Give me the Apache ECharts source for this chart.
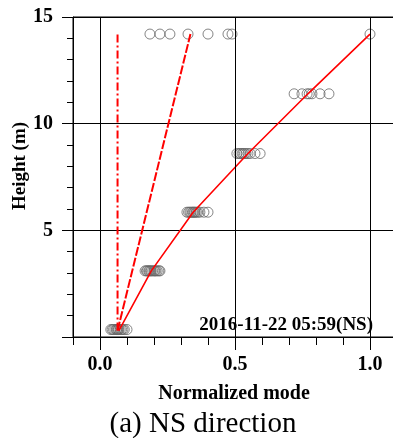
<!DOCTYPE html>
<html>
<head>
<meta charset="utf-8">
<script src="https://cdn.jsdelivr.net/npm/echarts@6/dist/echarts.min.js"></script>
<style>html,body{margin:0;padding:0;background:#fff;overflow:hidden;width:393px;height:438px}#c{width:400px;height:438px}</style>
</head>
<body>
<div id="c"></div>
<script>
// Heights of measurement levels (m)
var heights = [0.35, 3.1, 5.85, 8.6, 11.4, 14.2];
// Normalized mode amplitudes observed at each level
var modeH0 = [0.04, 0.045, 0.05, 0.055, 0.06, 0.062, 0.065, 0.068, 0.07, 0.075, 0.08, 0.085, 0.09, 0.1];
var modeH1 = [0.167, 0.172, 0.175, 0.18, 0.183, 0.187, 0.19, 0.195, 0.2, 0.203, 0.207, 0.212, 0.218, 0.222];
var modeH2 = [0.322, 0.328, 0.333, 0.337, 0.342, 0.345, 0.349, 0.352, 0.357, 0.362, 0.37, 0.385, 0.4];
var modeH3 = [0.507, 0.515, 0.52, 0.526, 0.53, 0.535, 0.541, 0.548, 0.556, 0.574, 0.593];
var modeH4 = [0.719, 0.748, 0.767, 0.775, 0.785, 0.815, 0.848];
var modeH5 = [0.185, 0.222, 0.259, 0.326, 0.40, 0.474, 0.489, 1.0];
// Fitted mode shapes
var fitSolidX = [0.07, 0.19, 0.345, 0.548, 0.77, 1.0];
var fitSolidH = [0.3, 3.1, 5.85, 8.6, 11.4, 14.2];
var fitDashX = [0.065, 0.335];
var fitDashH = [0.3, 14.2];
var fitDotX = [0.065, 0.065];
var fitDotH = [0.3, 14.25];
// Tick labels
var xTickLabels = [0, 0.5, 1.0];
var yTickLabels = [5, 10, 15];
var annotation = '2016-11-22 05:59(NS)';

var rows = [modeH0, modeH1, modeH2, modeH3, modeH4, modeH5];
var pts = [];
rows.forEach(function (r, i) { r.forEach(function (v) { pts.push([v, heights[i]]); }); });
function pair(xs, ys) { return xs.map(function (v, i) { return [v, ys[i]]; }); }

var FONT = '"Liberation Serif", "Times New Roman", serif';
var chart = echarts.init(document.getElementById('c'), null, {renderer: 'canvas'});
var option = {
  animation: false,
  grid: {left: 73, top: 17, right: 3, bottom: 101, containLabel: false, outerBoundsMode: 'none',
    show: true, borderColor: '#000', borderWidth: 1},
  xAxis: [{
    type: 'value', min: -0.1, max: 1.1, interval: 0.1, position: 'bottom',
    axisLine: {show: true, onZero: false, lineStyle: {color: '#000', width: 1}},
    axisTick: {show: true, inside: false, length: 8, lineStyle: {color: '#000'}},
    axisLabel: {show: false},
    splitLine: {show: false}
  }, {
    type: 'value', min: -0.1, max: 1.1, interval: 0.1, position: 'bottom',
    axisLine: {show: false, onZero: false},
    axisTick: {show: true, inside: false, length: 13, customValues: xTickLabels, lineStyle: {color: '#000'}},
    axisLabel: {show: true, customValues: xTickLabels, margin: 18,
      formatter: function (v) { return v.toFixed(1); },
      fontFamily: FONT, fontWeight: 'bold', fontSize: 20, color: '#000'},
    splitLine: {show: false}
  }],
  yAxis: {
    type: 'value', min: 0, max: 15, interval: 5,
    axisLine: {show: true, onZero: false, lineStyle: {color: '#000', width: 1}},
    axisTick: {show: true, inside: false, length: 11, lineStyle: {color: '#000'}},
    minorTick: {show: true, splitNumber: 5, length: 6, lineStyle: {color: '#000'}},
    axisLabel: {margin: 20, fontFamily: FONT, fontWeight: 'bold', fontSize: 20, color: '#000',
      formatter: function (v) { return yTickLabels.indexOf(v) >= 0 ? String(v) : ''; }},
    splitLine: {show: true, lineStyle: {color: '#000', width: 1}}
  },
  series: [{
    type: 'line', xAxisIndex: 0, data: [], silent: true,
    markLine: {silent: true, symbol: 'none', label: {show: false},
      lineStyle: {color: '#000', width: 1, type: 'solid'},
      data: xTickLabels.map(function (v) { return {xAxis: v}; })}
  }, {
    type: 'scatter', data: pts, symbol: 'circle', symbolSize: 10,
    itemStyle: {color: 'rgba(0,0,0,0)', borderColor: '#666', borderWidth: 1}
  }, {
    type: 'line', data: pair(fitDotX, fitDotH), symbol: 'none',
    lineStyle: {color: '#ff0000', width: 2, type: [8, 3, 2, 3]}
  }, {
    type: 'line', data: pair(fitDashX, fitDashH), symbol: 'none',
    lineStyle: {color: '#ff0000', width: 2, type: [9, 2]}
  }, {
    type: 'line', data: pair(fitSolidX, fitSolidH), symbol: 'none',
    lineStyle: {color: '#ff0000', width: 1.6, type: 'solid'}
  }],
  graphic: [{
    type: 'text', x: 373, y: 325,
    style: {text: annotation, fill: '#000', font: 'bold 19px ' + FONT, textAlign: 'right', textVerticalAlign: 'middle'}
  }, {
    type: 'text', x: 20, y: 166, rotation: Math.PI / 2,
    style: {text: 'Height (m)', fill: '#000', font: 'bold 19px ' + FONT, textAlign: 'center', textVerticalAlign: 'middle'}
  }, {
    type: 'text', x: 234, y: 394,
    style: {text: 'Normalized mode', fill: '#000', font: 'bold 20px ' + FONT, textAlign: 'center', textVerticalAlign: 'middle'}
  }, {
    type: 'text', x: 203, y: 424,
    style: {text: '(a) NS direction', fill: '#000', font: '29px ' + FONT, textAlign: 'center', textVerticalAlign: 'middle'}
  }]
};
chart.setOption(option);
</script>
</body>
</html>
